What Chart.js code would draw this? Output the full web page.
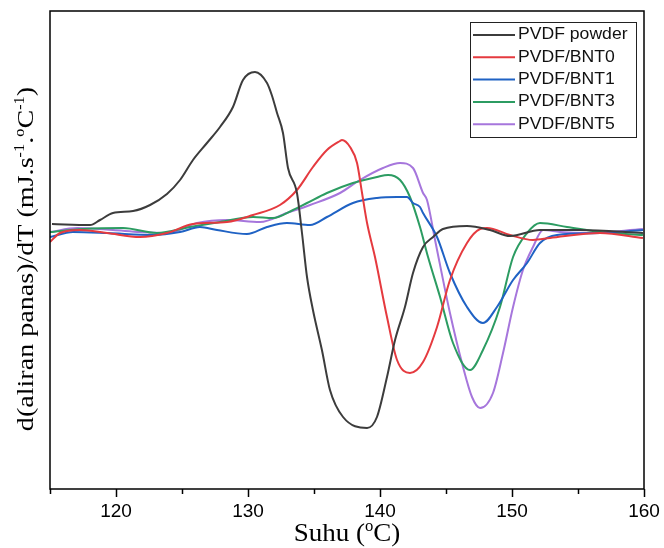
<!DOCTYPE html>
<html>
<head>
<meta charset="utf-8">
<script src="https://cdn.jsdelivr.net/npm/chart.js@4.4.0/dist/chart.umd.min.js"></script>
<style>
  html, body { margin: 0; padding: 0; background: #fff; }
  #wrap { width: 664px; height: 548px; }
</style>
</head>
<body>
<div id="wrap"><canvas id="dsc" width="664" height="548"></canvas></div>
<script>
/* ===== DATA (temperature in C, heat-flow derivative in arbitrary units) ===== */
const xTicks = [115, 120, 125, 130, 135, 140, 145, 150, 155, 160];
const seriesNames = ["PVDF powder", "PVDF/BNT0", "PVDF/BNT1", "PVDF/BNT3", "PVDF/BNT5"];
const seriesColors = ["#3c3c3c", "#e53a3f", "#1f62c4", "#2c9c62", "#a676dc"];

const powderT = [115.15, 118.03, 118.79, 119.77, 121.29, 122.58, 123.86, 124.85, 125.83, 126.89, 127.88, 128.86, 129.62, 130.53, 131.44, 131.8, 132.2, 132.65, 133.03, 133.71, 134.09, 134.47, 134.92, 135.6, 136.21, 137.2, 139.02, 139.77, 140.53, 141.14, 141.89, 142.5, 143.26, 144.02, 144.77, 146.59, 148.33, 149.85, 152.12, 155.15, 159.92];
const powderY = [265, 264, 269, 276, 278, 284, 295, 309, 329, 346, 362, 382, 409, 417, 406, 394, 376, 356, 321, 296, 256, 212, 179, 139, 99, 72, 61, 72, 112, 149, 182, 216, 242, 252, 260, 263, 259, 253, 259, 259, 256];

const bnt0T = [115.0, 115.76, 117.27, 119.32, 121.82, 123.86, 125.83, 128.41, 130.38, 132.42, 133.71, 134.92, 135.98, 136.97, 137.12, 137.73, 138.26, 138.64, 139.02, 139.62, 140.53, 141.29, 142.27, 143.26, 144.32, 145.3, 146.59, 147.58, 148.11, 149.85, 151.59, 152.88, 156.67, 159.92];
const bnt0Y = [247, 256, 259, 256, 252, 256, 265, 267, 274, 284, 299, 322, 339, 348, 349, 342, 326, 296, 266, 232, 172, 129, 116, 127, 162, 209, 246, 260, 261, 254, 249, 251, 256, 251];

const bnt1T = [115.0, 116.74, 119.32, 122.8, 124.85, 126.36, 127.65, 129.92, 131.44, 132.95, 134.7, 135.98, 137.95, 139.77, 141.29, 142.05, 142.5, 143.03, 143.26, 144.32, 145.3, 146.59, 147.8, 148.86, 150.08, 151.14, 152.12, 153.41, 156.67, 159.92];
const bnt1Y = [252, 257, 256, 254, 257, 262, 259, 255, 262, 266, 264, 272, 286, 291, 292, 292, 286, 282, 276, 252, 216, 182, 166, 182, 209, 226, 246, 254, 256, 259];

const bnt3T = [115.0, 117.5, 120.53, 123.1, 125.6, 127.88, 130.38, 131.89, 133.41, 134.47, 135.98, 137.95, 139.77, 140.61, 141.52, 142.27, 143.03, 143.64, 144.55, 145.53, 146.82, 147.8, 149.09, 150.08, 151.14, 152.12, 154.17, 156.67, 159.92];
const bnt3Y = [257, 260, 261, 256, 262, 267, 272, 271, 279, 286, 296, 306, 312, 314, 309, 292, 262, 232, 192, 146, 119, 139, 182, 232, 256, 266, 262, 257, 254];

const bnt5T = [115.0, 117.05, 119.77, 121.82, 123.86, 126.14, 128.41, 130.91, 132.95, 134.7, 136.97, 138.48, 140.23, 141.52, 142.5, 143.26, 143.56, 144.17, 145.3, 146.29, 146.97, 147.58, 148.56, 149.32, 150.08, 150.83, 151.59, 152.35, 153.64, 155.68, 159.92];
const bnt5Y = [257, 261, 259, 257, 256, 266, 269, 267, 276, 284, 296, 309, 321, 326, 321, 296, 289, 249, 176, 122, 92, 81, 96, 136, 182, 219, 242, 259, 257, 256, 260];

const xTitle = [["Suhu (", 0], ["o", 1], ["C)", 0]];
const yTitle = [["d(aliran panas)/dT (mJ.s", 0], ["-1", 1], [".", 0], ["o", 1], ["C", 0], ["-1", 1], [")", 0]];

/* ===== HELPERS ===== */
const pts = (t, y) => t.map((v, i) => ({ x: v, y: y[i] }));
const allT = [powderT, bnt0T, bnt1T, bnt3T, bnt5T];
const allY = [powderY, bnt0Y, bnt1Y, bnt3Y, bnt5Y];

// draw text with superscript parts, centred on 0,0
function richText(ctx, parts, size) {
  const big = `${size}px "Liberation Serif", "Times New Roman", serif`;
  const small = `${Math.round(size * 0.6)}px "Liberation Serif", "Times New Roman", serif`;
  let w = 0;
  parts.forEach(([s, sup]) => { ctx.font = sup ? small : big; w += ctx.measureText(s).width; });
  let x = -w / 2;
  ctx.textBaseline = "alphabetic";
  ctx.textAlign = "left";
  parts.forEach(([s, sup]) => {
    ctx.font = sup ? small : big;
    ctx.fillText(s, x, sup ? -size * 0.38 : 0);
    x += ctx.measureText(s).width;
  });
}

/* ===== FRAME, TICKS, TITLES, LEGEND ===== */
const decor = {
  id: "decor",
  afterDraw(chart) {
    const { ctx, chartArea: a } = chart;
    const xs = chart.scales.x;
    ctx.save();
    ctx.strokeStyle = "#000";
    ctx.lineWidth = 1.5;
    ctx.strokeRect(a.left, a.top, a.right - a.left, a.bottom - a.top);

    xTicks.forEach(v => {
      const px = Math.round(xs.getPixelForValue(v)) + 0.5;
      const len = v % 10 === 0 ? 8 : 5;
      ctx.beginPath();
      ctx.moveTo(px, a.bottom);
      ctx.lineTo(px, a.bottom + len);
      ctx.stroke();
    });

    ctx.fillStyle = "#000";
    ctx.save();
    ctx.translate((a.left + a.right) / 2, 541);
    ctx.scale(1.04, 1);
    richText(ctx, xTitle, 26);
    ctx.restore();

    ctx.save();
    ctx.translate(33, 259);
    ctx.rotate(-Math.PI / 2);
    ctx.scale(1.17, 1);
    richText(ctx, yTitle, 24);
    ctx.restore();

    // legend box
    const lx = a.right - 174, ly = a.top + 11;
    ctx.lineWidth = 1;
    ctx.strokeStyle = "#222";
    ctx.strokeRect(lx + 0.5, ly + 0.5, 166, 115);
    ctx.font = '16px "Liberation Sans", Arial, sans-serif';
    ctx.textBaseline = "middle";
    ctx.textAlign = "left";
    seriesNames.forEach((n, i) => {
      const y = ly + 13 + i * 22.3;
      ctx.strokeStyle = seriesColors[i];
      ctx.lineWidth = 2;
      ctx.beginPath();
      ctx.moveTo(lx + 3, y);
      ctx.lineTo(lx + 45, y);
      ctx.stroke();
      ctx.fillStyle = "#111";
      ctx.save();
      ctx.translate(lx + 48, y);
      ctx.scale(1.1, 1);
      ctx.fillText(n, 0, 0);
      ctx.restore();
    });
    ctx.restore();
  }
};

/* ===== CHART ===== */
new Chart(document.getElementById("dsc"), {
  type: "line",
  data: {
    datasets: seriesNames.map((n, i) => ({
      label: n,
      data: pts(allT[i], allY[i]),
      borderColor: seriesColors[i],
      borderWidth: 2,
      pointRadius: 0,
      fill: false,
      cubicInterpolationMode: "monotone"
    }))
  },
  options: {
    responsive: false,
    animation: false,
    events: [],
    layout: { padding: { left: 50, right: 20, top: 11, bottom: 0 } },
    plugins: { legend: { display: false }, tooltip: { enabled: false } },
    scales: {
      x: {
        type: "linear",
        min: 115,
        max: 160,
        afterBuildTicks: s => { s.ticks = xTicks.map(v => ({ value: v })); },
        afterFit: s => { s.height = 59; s.paddingLeft = 0; s.paddingRight = 0; },
        grid: { drawOnChartArea: false, drawTicks: false },
        border: { display: false },
        ticks: {
          padding: 11,
          color: "#000",
          font: { family: '"Liberation Sans", Arial, sans-serif', size: 19 },
          callback: v => v % 10 === 0 ? String(v) : ""
        }
      },
      y: {
        display: false,
        min: 0,
        max: 478
      }
    }
  },
  plugins: [decor]
});
</script>
</body>
</html>
